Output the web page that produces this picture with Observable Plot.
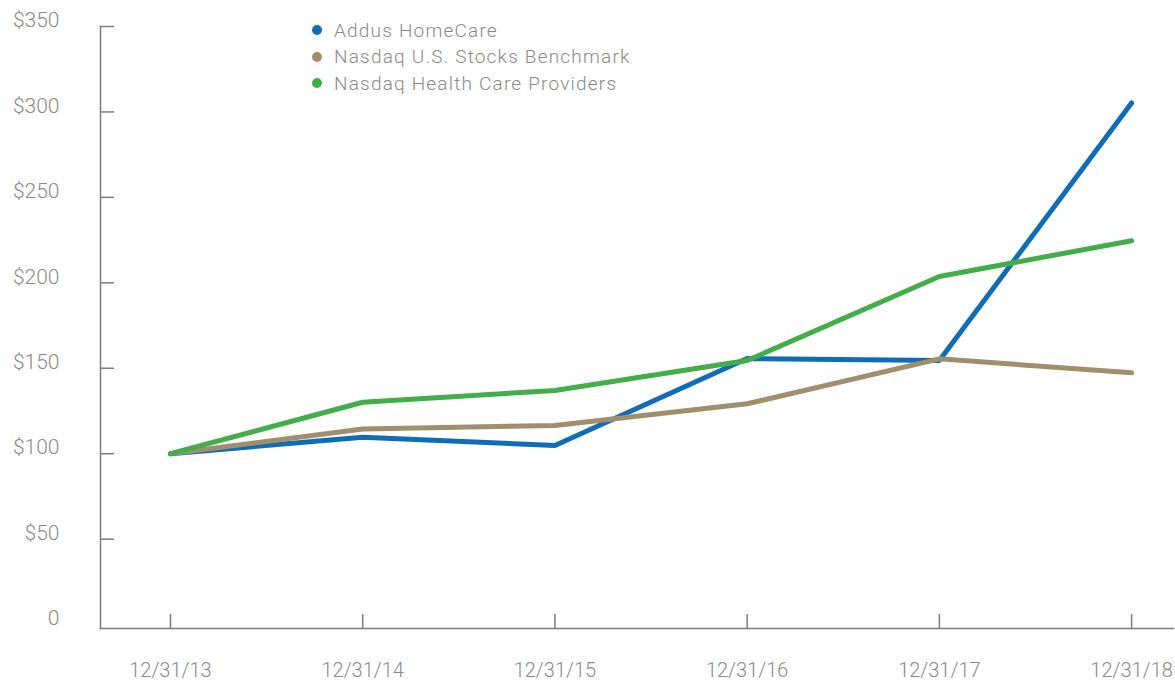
<!DOCTYPE html>
<html>
<head>
<meta charset="utf-8">
<script src="https://cdn.jsdelivr.net/npm/d3@7"></script>
<script src="https://cdn.jsdelivr.net/npm/@observablehq/plot@0.6"></script>
<style>
  html, body { margin: 0; padding: 0; background: #fff; }
  #wrap { position: relative; width: 1175px; height: 683px; font-family: Roboto, "Noto Sans", sans-serif; }
  #legend { position: absolute; left: 312px; top: 17px; font-size: 19px; font-weight: 300; color: #8a8a8a; letter-spacing: 1.2px; }
  #legend .row { display: flex; align-items: center; height: 26.5px; }
  #legend .sw { width: 10px; height: 10px; border-radius: 50%; margin-right: 12px; }
  svg text { font-weight: 300; }
</style>
</head>
<body>
<div id="wrap"><div id="legend"></div></div>
<script>
const dates = ["12/31/13", "12/31/14", "12/31/15", "12/31/16", "12/31/17", "12/31/18"];
const seriesNames = ["Addus HomeCare", "Nasdaq U.S. Stocks Benchmark", "Nasdaq Health Care Providers"];
const seriesColors = ["#0f6db8", "#a08f6c", "#41ae4a"];
const addus = [100, 109.6, 104.8, 155.7, 154.5, 305.3];
const nasdaqUS = [100, 114.5, 116.5, 129.2, 155.5, 147.3];
const nasdaqHC = [100, 130.1, 137.0, 154.5, 203.7, 224.6];
const yTicks = [0, 50, 100, 150, 200, 250, 300, 350];

const values = [addus, nasdaqUS, nasdaqHC];
const rows = [];
seriesNames.forEach((name, s) => values[s].forEach((v, i) => rows.push({series: name, i, v})));

const axisColor = "#7a7d80";
const textColor = "#8a8a8a";

const chart = Plot.plot({
  width: 1175,
  height: 683,
  marginLeft: 100,
  marginRight: 2,
  marginTop: 26,
  marginBottom: 55,
  style: {fontFamily: "Roboto, 'Noto Sans', sans-serif", background: "#fff"},
  x: {domain: [-0.364, 5.218], axis: null},
  y: {domain: [-2.3, 350], axis: null},
  color: {domain: seriesNames, range: seriesColors},
  marks: [
    Plot.frame({anchor: "left", stroke: axisColor, strokeWidth: 1.5}),
    Plot.frame({anchor: "bottom", stroke: axisColor, strokeWidth: 1.5}),
    Plot.axisY({ticks: yTicks.filter(d => d > 0), tickSize: 14, dx: 14, text: null, label: null, stroke: axisColor, strokeWidth: 1.5}),
    Plot.axisY({ticks: yTicks, tickSize: 0, tickPadding: 41, dy: -6, fontSize: 21, fill: textColor, label: null,
      tickFormat: d => d === 0 ? "0" : "$" + d}),
    Plot.axisX({ticks: d3.range(dates.length), tickSize: 14, dy: -14, text: null, label: null, stroke: axisColor, strokeWidth: 1.5}),
    Plot.axisX({ticks: d3.range(dates.length), tickSize: 0, tickPadding: 34, fontSize: 20, fill: textColor, label: null,
      tickFormat: i => dates[i]}),
    Plot.line(rows, {x: "i", y: "v", z: "series", stroke: "series", strokeWidth: 5,
      strokeLinecap: "round", strokeLinejoin: "miter"})
  ]
});
document.getElementById("wrap").appendChild(chart);

const legend = document.getElementById("legend");
seriesNames.forEach((n, k) => {
  const row = document.createElement("div");
  row.className = "row";
  const sw = document.createElement("span");
  sw.className = "sw";
  sw.style.background = seriesColors[k];
  const t = document.createElement("span");
  t.textContent = n;
  row.appendChild(sw); row.appendChild(t);
  legend.appendChild(row);
});
</script>
</body>
</html>
